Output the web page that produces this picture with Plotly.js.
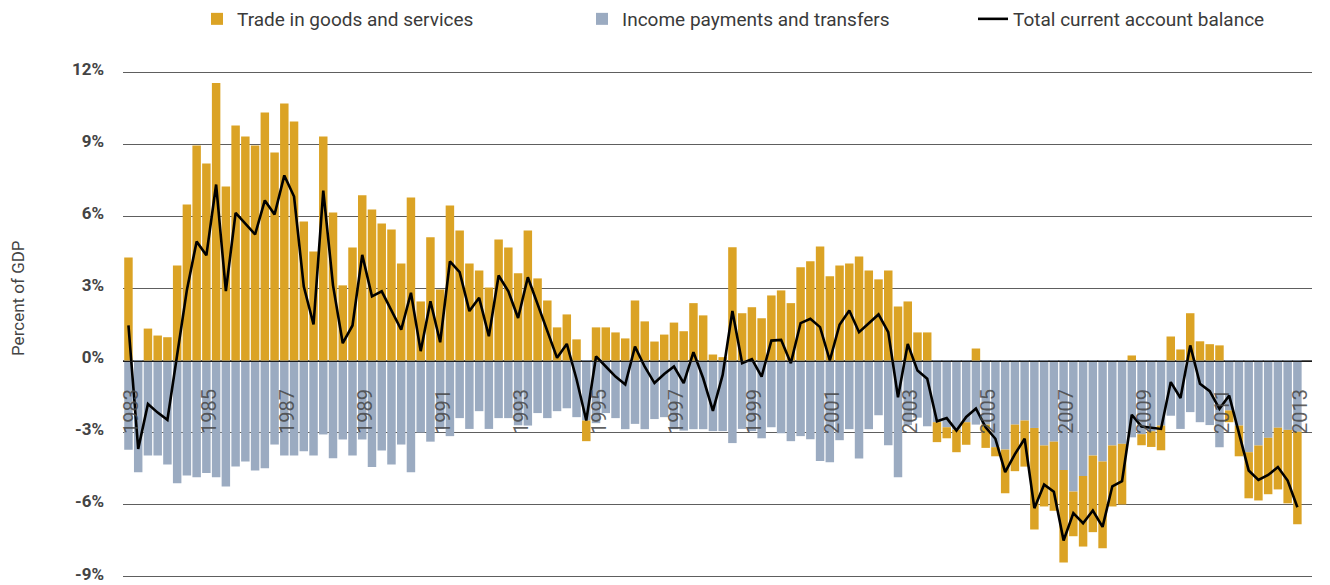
<!DOCTYPE html>
<html>
<head>
<meta charset="utf-8">
<script src="https://cdn.plot.ly/plotly-3.0.1.min.js"></script>
<style>
  html, body { margin: 0; padding: 0; background: #fff; }
  #chart { width: 1330px; height: 585px; }
</style>
</head>
<body>
<div id="chart"></div>
<script>
// Quarterly data, 1983 Q1 to 2013 Q1 (percent of GDP)
const startYear = 1983;
const nQuarters = 121;

const trade = [
  4.29, 0.00, 1.33, 1.04, 0.97, 3.96, 6.50, 8.96, 8.21, 11.56,
  7.25, 9.79, 9.33, 8.96, 10.33, 8.67, 10.71, 9.96, 5.79, 4.54,
  9.33, 6.17, 3.13, 4.71, 6.88, 6.29, 5.71, 5.46, 4.04, 6.79,
  2.46, 5.13, 2.96, 6.46, 5.42, 4.04, 3.75, 3.04, 5.04, 4.71,
  3.63, 5.42, 3.42, 2.50, 1.38, 1.92, 0.88, -0.86, 1.38, 1.38,
  1.17, 0.92, 2.50, 1.63, 0.79, 1.08, 1.58, 1.22, 2.39, 1.88,
  0.25, 0.14, 4.72, 1.97, 2.22, 1.76, 2.71, 2.92, 2.39, 3.89,
  4.14, 4.75, 3.51, 3.96, 4.04, 4.33, 3.75, 3.38, 3.75, 2.25,
  2.46, 1.17, 1.17, -0.83, -0.46, -0.94, -0.94, 0.50, -0.97, -0.38,
  -1.82, -1.94, -1.92, -4.23, -2.54, -2.88, -3.85, -1.86, -2.94, -3.19,
  -3.61, -2.54, -2.53, 0.21, -0.46, -0.65, -1.03, 1.00, 0.46, 1.97,
  0.80, 0.68, 0.63, -0.49, -1.28, -1.92, -2.29, -2.35, -2.57, -3.06,
  -3.85
];

const income = [
  -3.72, -4.65, -3.96, -3.96, -4.33, -5.11, -4.79, -4.86, -4.69, -4.86,
  -5.25, -4.42, -4.21, -4.58, -4.49, -3.50, -3.96, -3.96, -3.78, -3.96,
  -3.08, -4.07, -3.29, -3.96, -3.29, -4.44, -3.75, -4.33, -3.50, -4.65,
  -3.00, -3.38, -2.85, -3.15, -2.40, -2.85, -2.11, -2.85, -2.40, -2.40,
  -2.70, -2.71, -2.19, -2.40, -2.11, -1.99, -2.36, -2.50, -2.61, -2.19,
  -2.40, -2.86, -2.64, -2.86, -2.44, -2.36, -2.86, -2.92, -2.86, -2.86,
  -2.94, -2.94, -3.44, -2.85, -2.94, -3.24, -2.78, -3.03, -3.36, -3.15,
  -3.28, -4.19, -4.24, -3.32, -2.86, -4.08, -2.86, -2.28, -3.53, -4.86,
  -2.69, -2.38, -2.74, -2.57, -2.78, -2.88, -2.57, -2.67, -2.67, -3.61,
  -3.71, -2.67, -2.50, -2.81, -3.54, -3.38, -4.56, -5.46, -4.81, -3.96,
  -4.21, -3.54, -3.47, -3.20, -3.07, -2.95, -2.71, -2.30, -2.85, -2.15,
  -2.57, -2.69, -3.61, -2.08, -2.71, -3.82, -3.54, -3.22, -2.80, -2.89,
  -2.97
];

const total = [
  1.46, -3.68, -1.81, -2.17, -2.47, 0.32, 2.94, 4.96, 4.38, 7.33,
  2.89, 6.15, 5.68, 5.25, 6.67, 6.08, 7.71, 6.83, 3.08, 1.50,
  7.08, 3.13, 0.72, 1.46, 4.40, 2.67, 2.88, 2.06, 1.28, 2.82,
  0.39, 2.47, 0.76, 4.13, 3.68, 2.06, 2.61, 1.01, 3.54, 2.88,
  1.77, 3.47, 2.38, 1.20, 0.11, 0.69, -0.78, -2.50, 0.17, -0.25,
  -0.67, -1.00, 0.58, -0.26, -0.94, -0.56, -0.25, -0.94, 0.35, -0.74,
  -2.10, -0.60, 2.06, -0.11, 0.06, -0.67, 0.83, 0.86, -0.11, 1.56,
  1.74, 1.39, 0.00, 1.49, 2.08, 1.18, 1.53, 1.92, 1.18, -1.53,
  0.69, -0.42, -0.76, -2.53, -2.40, -2.92, -2.35, -2.00, -2.78, -3.26,
  -4.65, -3.90, -3.26, -6.15, -5.17, -5.47, -7.50, -6.36, -6.78, -6.25,
  -6.93, -5.24, -5.03, -2.26, -2.75, -2.80, -2.85, -0.90, -1.56, 0.63,
  -0.97, -1.28, -2.01, -1.46, -3.06, -4.58, -4.97, -4.77, -4.44, -5.00,
  -6.11
];

const labelYears = [1983, 1985, 1987, 1989, 1991, 1993, 1995, 1997, 1999, 2001, 2003, 2005, 2007, 2009, 2011, 2013];
const yTickVals = [-9, -6, -3, 0, 3, 6, 9, 12];
const yTickText = ['-9%', '-6%', '-3%', '0%', '3%', '6%', '9%', '12%'];

const seriesNames = ['Trade in goods and services', 'Income payments and transfers', 'Total current account balance'];
const yTitle = 'Percent of GDP';

// Category labels for each quarter
const quarters = [];
for (let i = 0; i < nQuarters; i++) {
  quarters.push((startYear + Math.floor(i / 4)) + ' Q' + (i % 4 + 1));
}
const tickVals = labelYears.map(y => y + ' Q1');
const tickText = labelYears.map(String);

const FONT = "Roboto, 'Liberation Sans Narrow', sans-serif";
const GOLD = '#DBA325';
const BLUE = '#9BABC1';

const traces = [
  {
    type: 'bar', name: seriesNames[1], x: quarters, y: income,
    marker: { color: BLUE, line: { width: 0 } }, legendrank: 2, legendwidth: 346, hoverinfo: 'skip'
  },
  {
    type: 'bar', name: seriesNames[0], x: quarters, y: trade,
    marker: { color: GOLD, line: { width: 0 } }, legendrank: 1, legendwidth: 340, hoverinfo: 'skip'
  },
  {
    type: 'scatter', mode: 'lines', name: seriesNames[2], x: quarters, y: total,
    line: { color: '#000000', width: 2.6 }, legendrank: 3, legendwidth: 270, hoverinfo: 'skip'
  }
];

const PL = 123, PR = 18, PT = 71, PB = 7;
const plotW = 1330 - PL - PR;
const plotH = 585 - PT - PB;
const yMin = -9.06, yMax = 12.06;
const zeroPos = (0 - yMin) / (yMax - yMin);

const layout = {
  width: 1330, height: 585,
  margin: { l: PL, r: PR, t: PT, b: PB, pad: 0, autoexpand: false },
  paper_bgcolor: '#ffffff', plot_bgcolor: '#ffffff',
  barmode: 'relative', bargap: 0.13,
  showlegend: true,
  font: { family: FONT, color: '#333' },
  legend: {
    orientation: 'h', x: (197 - PL) / plotW, xanchor: 'left',
    yref: 'container', y: 1, yanchor: 'top',
    font: { family: FONT, size: 19, color: '#3a3a3a' },
    bgcolor: 'rgba(0,0,0,0)', borderwidth: 0, traceorder: 'normal'
  },
  xaxis: {
    type: 'category', range: [-0.56, 121.5],
    anchor: 'free', position: zeroPos,
    showline: true, linecolor: '#1a1a1a', linewidth: 1.5,
    showgrid: false, zeroline: false, ticks: '',
    tickmode: 'array', tickvals: tickVals, ticktext: tickText,
    tickangle: -90, ticklabelstandoff: 19, ticklabelshift: 3, ticklabeloverflow: 'allow',
    tickfont: { family: FONT, size: 20, color: 'rgba(70,70,70,0.85)' },
    automargin: false, fixedrange: true
  },
  yaxis: {
    range: [yMin, yMax], tickmode: 'array', tickvals: yTickVals, ticktext: yTickText,
    showgrid: true, gridcolor: '#5e5e5e', gridwidth: 1.1,
    zeroline: false, showline: false, ticks: '',
    ticklabelstandoff: 18, ticklabelshift: -3, ticklabeloverflow: 'allow',
    tickfont: { family: FONT, size: 17, color: '#444', weight: 'bold' },
    automargin: false, fixedrange: true
  },
  annotations: [
    {
      text: yTitle, xref: 'paper', yref: 'paper',
      x: (18 - PL) / plotW, y: (PT + plotH - 298) / plotH,
      xanchor: 'center', yanchor: 'middle', textangle: -90, showarrow: false,
      font: { family: FONT, size: 17, color: '#444' }
    }
  ]
};

Plotly.newPlot('chart', traces, layout, { displayModeBar: false, staticPlot: true });
</script>
</body>
</html>
